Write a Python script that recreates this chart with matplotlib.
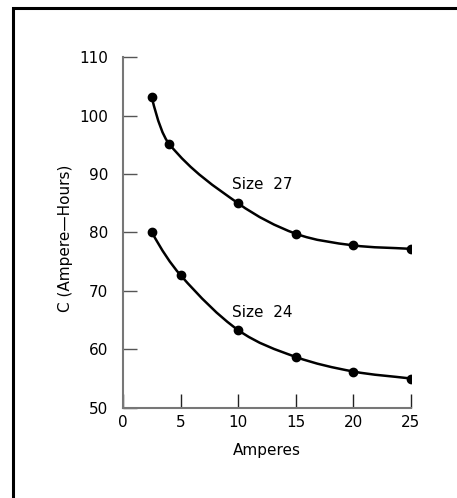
import numpy as np
import matplotlib
matplotlib.use("Agg")
import matplotlib.pyplot as plt
from matplotlib.path import Path
from matplotlib.patches import PathPatch, Rectangle

plt.rcParams['font.family'] = ['DejaVu Sans']

# readings from the chart
amps_27 = [2.5, 4, 10, 15, 20, 25]
cap_27 = [103.2, 95.2, 85.0, 79.8, 77.8, 77.2]
amps_24 = [2.5, 5, 10, 15, 20, 25]
cap_24 = [80.1, 72.7, 63.3, 58.7, 56.2, 55.0]
x_ticks = [0, 5, 10, 15, 20, 25]
y_ticks = [50, 60, 70, 80, 90, 100, 110]
label_27 = ("Size  27", 12.1, 88.3)
label_24 = ("Size  24", 12.1, 66.3)


def smooth_path(xs, ys):
    '''cubic Hermite bezier segments through the given points'''
    xs = np.asarray(xs, float)
    ys = np.asarray(ys, float)
    h = np.diff(xs)
    sec = np.diff(ys) / h
    slope = np.empty(len(xs))
    slope[1:-1] = (ys[2:] - ys[:-2]) / (xs[2:] - xs[:-2])
    slope[0] = 2 * sec[0] - slope[1]
    slope[-1] = sec[-1]
    verts = [(xs[0], ys[0])]
    codes = [Path.MOVETO]
    for i in range(len(xs) - 1):
        d = h[i] / 3
        verts += [(xs[i] + d, ys[i] + slope[i] * d),
                  (xs[i + 1] - d, ys[i + 1] - slope[i + 1] * d),
                  (xs[i + 1], ys[i + 1])]
        codes += [Path.CURVE4] * 3
    return Path(verts, codes)


fig = plt.figure(figsize=(4.57, 4.98), dpi=100)
ax = fig.add_axes([0.269, 0.1813, 0.630, 0.7037])

for xs, ys in [(amps_27, cap_27), (amps_24, cap_24)]:
    ax.add_patch(PathPatch(smooth_path(xs, ys), fill=False, lw=1.8,
                           color='black', capstyle='round'))
    ax.plot(xs, ys, 'o', color='black', markersize=6, zorder=3)

for txt, x, y in [label_27, label_24]:
    ax.text(x, y, txt, ha='center', va='center', fontsize=11)

ax.set_xlim(0, 25)
ax.set_ylim(50, 110)
ax.set_xticks(x_ticks)
ax.set_yticks(y_ticks)
for side in ['top', 'right']:
    ax.spines[side].set_visible(False)
for side in ['left', 'bottom']:
    ax.spines[side].set_color('#777777')
    ax.spines[side].set_linewidth(1.5)
ax.tick_params(axis='y', direction='in', length=10, width=1, color='#555555',
               pad=10.5, labelsize=11)
ax.tick_params(axis='x', direction='in', length=10, width=1, color='#222222',
               pad=5, labelsize=11)
ax.set_xlabel('Amperes', fontsize=11)
ax.set_ylabel('C (Ampere—Hours)', fontsize=11)
ax.xaxis.set_label_coords(0.5, -0.100)
ax.yaxis.set_label_coords(-0.172, 0.484)

fig.patches.append(Rectangle((0.0274, -0.2), 1.2, 1.184, transform=fig.transFigure,
                             fill=False, lw=2.2, edgecolor='black'))

fig.savefig('out.png', dpi=100)
